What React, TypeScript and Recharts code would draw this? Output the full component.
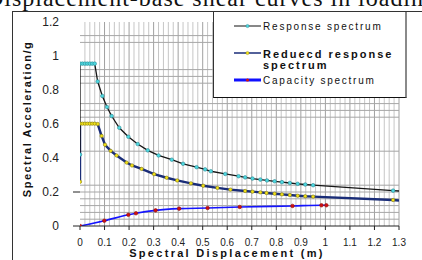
import React from 'react';
import { LineChart, Line, XAxis, YAxis, Legend, ReferenceLine } from 'recharts';

// ---- data ----
const respDisp = [0, 0, 0.01, 0.02, 0.03, 0.04, 0.05, 0.06, 0.072, 0.091, 0.11, 0.129, 0.16, 0.197, 0.235, 0.276, 0.32, 0.374, 0.42, 0.475, 0.51, 0.533, 0.592, 0.646, 0.673, 0.703, 0.735, 0.762, 0.793, 0.823, 0.855, 0.887, 0.918, 0.95, 1.276, 1.3];
const respSa = [0.42, 0.955, 0.955, 0.955, 0.955, 0.955, 0.955, 0.955, 0.85, 0.765, 0.7, 0.647, 0.578, 0.525, 0.482, 0.445, 0.415, 0.39, 0.366, 0.346, 0.333, 0.322, 0.306, 0.293, 0.286, 0.279, 0.273, 0.268, 0.263, 0.258, 0.253, 0.248, 0.244, 0.24, 0.208, 0.206];

const redDisp = [0, 0, 0.01, 0.02, 0.03, 0.04, 0.05, 0.06, 0.072, 0.088, 0.102, 0.125, 0.149, 0.19, 0.212, 0.251, 0.302, 0.353, 0.396, 0.452, 0.502, 0.56, 0.613, 0.673, 0.703, 0.735, 0.76, 0.793, 0.823, 0.855, 0.887, 0.918, 0.95, 1.276, 1.3];
const redSa = [0.26, 0.602, 0.602, 0.602, 0.602, 0.602, 0.602, 0.602, 0.6, 0.53, 0.478, 0.442, 0.415, 0.373, 0.356, 0.336, 0.305, 0.284, 0.268, 0.251, 0.237, 0.224, 0.214, 0.206, 0.202, 0.198, 0.194, 0.19, 0.186, 0.182, 0.178, 0.175, 0.173, 0.153, 0.15];

const capDisp = [0, 0.099, 0.197, 0.228, 0.308, 0.404, 0.52, 0.651, 0.866, 0.984, 1.004];
const capSa = [0, 0.031, 0.066, 0.075, 0.092, 0.102, 0.106, 0.112, 0.118, 0.122, 0.122];

const xTicks = [0, 0.1, 0.2, 0.3, 0.4, 0.5, 0.6, 0.7, 0.8, 0.9, 1, 1.1, 1.2, 1.3];
const yTicks = [0, 0.2, 0.4, 0.6, 0.8, 1, 1.2];

const seriesNames = ['Response  spectrum', 'Reduecd response spectrum', 'Capacity spectrum'];
const caption = 'Displacement-base shear curves in loading';
const xTitle = 'Spectral Displacement (m)';
const yTitle = 'Spectral Acceleration/g';

// ---- grid positions (styling) ----
const gridHValues = [0.04, 0.08, 0.12, 0.16, 0.2, 0.24, 0.44, 0.64, 0.68, 0.72, 0.84, 0.88, 0.92, 1.08, 1.12];
const gridMinorX = Array.from({ length: 66 }, (_, i) => i * 2)
  .filter((v) => v % 10 !== 0 && v > 0)
  .map((v) => v / 100);
const gridMajorX = xTicks.filter((v) => v > 0);

const zip = (xs: number[], ys: number[]) => xs.map((sd, i) => ({ sd, sa: ys[i] }));
const respData = zip(respDisp, respSa);
const redData = zip(redDisp, redSa);
const capData = zip(capDisp, capSa);

const FONT = '"Liberation Sans", Arial, sans-serif';

const makeDot = (len: number, r: number, fill: string, stroke: string) => (p: any) => {
  if (p.index === len - 1 || p.cx == null) return <g key={`e-${p.index}`} />;
  return <circle key={`d-${p.index}`} cx={p.cx} cy={p.cy} r={r} fill={fill} stroke={stroke} strokeWidth={0.6} />;
};

const YTick = (props: any) => {
  const { x, y, payload } = props;
  const v = payload.value;
  return (
    <g>
      {v <= 0.2 ? <line x1={x + 14} x2={x + 21} y1={y} y2={y} stroke="#222" strokeWidth={1} /> : null}
      <text x={x} y={y} dy="0.36em" textAnchor="end" fontFamily={FONT} fontSize={12} fill="#222">
        {String(v)}
      </text>
    </g>
  );
};

const LegendBox = () => (
  <div
    style={{
      width: 194,
      height: 86,
      background: '#fff',
      borderLeft: '1px solid #333',
      borderBottom: '1.5px solid #111',
      borderRight: '2px solid #8a8a8a',
      boxSizing: 'border-box',
    }}
  >
    <svg width={191} height={84} style={{ display: 'block' }}>
      <line x1={20} x2={47} y1={14} y2={14} stroke="#111" strokeWidth={1} />
      <circle cx={33.5} cy={14} r={1.6} fill="#4fd8e0" stroke="#2b8a94" strokeWidth={0.5} />
      <text x={49} y={17.5} fontFamily={FONT} fontSize={10} letterSpacing={1.8} fill="#111">
        {seriesNames[0]}
      </text>
      <line x1={20} x2={47} y1={41} y2={41} stroke="#1a2d78" strokeWidth={1.5} />
      <circle cx={33.5} cy={41} r={1.6} fill="#f2e21a" stroke="#8a8010" strokeWidth={0.4} />
      <text x={49} y={45.5} fontFamily={FONT} fontSize={11} fontWeight="bold" letterSpacing={2} fill="#111">
        Reduecd response
      </text>
      <text x={49} y={57} fontFamily={FONT} fontSize={11} fontWeight="bold" letterSpacing={2} fill="#111">
        spectrum
      </text>
      <line x1={20} x2={47} y1={68} y2={68} stroke="#1010ff" strokeWidth={3} />
      <circle cx={33.5} cy={68} r={1.6} fill="#d01010" />
      <text x={49} y={71.5} fontFamily={FONT} fontSize={10} letterSpacing={1.75} fill="#111">
        {seriesNames[2]}
      </text>
    </svg>
  </div>
);

export default function App() {
  return (
    <div style={{ position: 'absolute', left: 0, top: 0, width: 422, height: 260, overflow: 'hidden', background: '#fff' }}>
      <LineChart width={422} height={260} margin={{ top: 22, right: 23, bottom: 0, left: 0 }}>
        <XAxis
          type="number"
          dataKey="sd"
          domain={[0, 1.3]}
          ticks={xTicks}
          allowDataOverflow
          height={34}
          stroke="#222"
          tickSize={4}
          tickMargin={9}
          tick={{ fontFamily: FONT, fontSize: 10, fill: '#222' }}
          label={{
            content: () => (
              <text x={227} y={257} textAnchor="middle" fontFamily={FONT} fontSize={11} fontWeight="bold" letterSpacing={2.3} fill="#111">
                {xTitle}
              </text>
            ),
          }}
        />
        <YAxis
          type="number"
          domain={[0, 1.2]}
          ticks={yTicks}
          allowDataOverflow
          width={80}
          axisLine={false}
          tickLine={false}
          tickSize={7}
          tickMargin={14}
          tick={<YTick />}
          label={{
            content: () => (
              <text
                x={27}
                y={119}
                transform="rotate(-90, 27, 119)"
                textAnchor="middle"
                dominantBaseline="central"
                fontFamily={FONT}
                fontSize={11}
                fontWeight="bold"
                letterSpacing={1.5}
                fill="#111"
              >
                {yTitle}
              </text>
            ),
          }}
        />
        {gridMinorX.map((v) => (
          <ReferenceLine key={`mx-${v}`} x={v} stroke="#c6c6c6" strokeWidth={1} />
        ))}
        {gridMajorX.map((v) => (
          <ReferenceLine key={`jx-${v}`} x={v} stroke="#a0a0a0" strokeWidth={1} />
        ))}
        {gridHValues.map((v) => (
          <ReferenceLine key={`hy-${v}`} y={v} stroke="#a6a6a6" strokeWidth={1} />
        ))}
        <Line
          data={capData}
          dataKey="sa"
          name={seriesNames[2]}
          type="monotone"
          stroke="#1414ff"
          strokeWidth={1.6}
          dot={makeDot(capData.length + 1, 1.8, '#d01010', '#901010')}
          isAnimationActive={false}
        />
        <Line
          data={redData}
          dataKey="sa"
          name={seriesNames[1]}
          type="linear"
          stroke="#1a2d78"
          strokeWidth={2.4}
          dot={makeDot(redData.length, 1.7, '#f2e21a', '#8a8010')}
          isAnimationActive={false}
        />
        <Line
          data={respData}
          dataKey="sa"
          name={seriesNames[0]}
          type="linear"
          stroke="#151515"
          strokeWidth={1.3}
          dot={makeDot(respData.length, 1.8, '#4fd8e0', '#2b8a94')}
          isAnimationActive={false}
        />
        <Legend
          layout="horizontal"
          verticalAlign="middle"
          align="center"
          content={() => <LegendBox />}
          wrapperStyle={{ position: 'absolute', left: 213, top: 12, width: 194, height: 86 }}
        />
      </LineChart>
      <svg width={422} height={260} style={{ position: 'absolute', left: 0, top: 0, pointerEvents: 'none' }}>
        <text x={-14} y={5.5} fontFamily='"Liberation Serif", "Times New Roman", serif' fontSize={24} textLength={450} lengthAdjust="spacing" fill="#111">
          {caption}
        </text>
        <line x1={12} x2={422} y1={11.5} y2={11.5} stroke="#333" strokeWidth={1} />
        <line x1={12.5} x2={12.5} y1={11} y2={260} stroke="#333" strokeWidth={1} />
      </svg>
    </div>
  );
}
